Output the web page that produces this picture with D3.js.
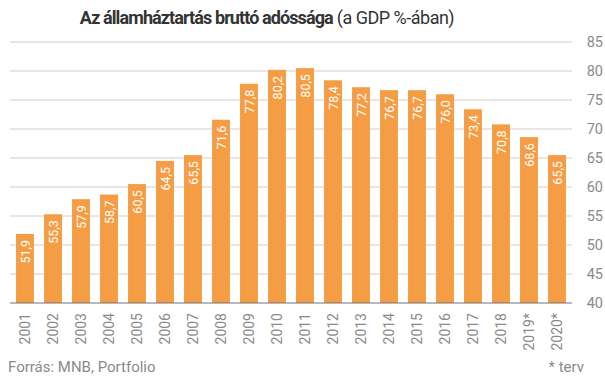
<!DOCTYPE html>
<html><head><meta charset="utf-8">
<script src="https://cdn.jsdelivr.net/npm/d3@7"></script>
<style>body{margin:0;background:#fff;}svg{display:block;font-family:Roboto,"Noto Sans",sans-serif;}</style>
</head><body>
<svg id="c" width="605" height="378"></svg>
<script>
const years = ["2001","2002","2003","2004","2005","2006","2007","2008","2009","2010","2011","2012","2013","2014","2015","2016","2017","2018","2019*","2020*"];
const debt = [51.9,55.3,57.9,58.7,60.5,64.5,65.5,71.6,77.8,80.2,80.5,78.4,77.2,76.7,76.7,76.0,73.4,70.8,68.6,65.5];
const yTicks = [40,45,50,55,60,65,70,75,80,85];
const titleBold = "Az államháztartás bruttó adóssága";
const titleRest = " (a GDP %-ában)";
const sourceText = "Forrás: MNB, Portfolio";
const noteText = "* terv";

const svg = d3.select("#c");
const x = d3.scaleBand().domain(years).range([11,571]).paddingInner(0.36).paddingOuter(0.18);
const y = d3.scaleLinear().domain([40,85]).range([303,42]);

svg.append("g").selectAll("line").data(yTicks.filter(d=>d>40)).join("line")
  .attr("x1",10).attr("x2",572).attr("y1",d=>y(d)).attr("y2",d=>y(d))
  .attr("stroke","#cfcfcf").attr("stroke-width",1);

svg.append("g").selectAll("text").data(yTicks).join("text")
  .attr("x",603).attr("y",d=>y(d)+5).attr("text-anchor","end")
  .attr("font-size",14.5).attr("fill","#8a8a8a").text(d=>d);

svg.append("g").selectAll("rect").data(debt).join("rect")
  .attr("x",(d,i)=>x(years[i])).attr("width",x.bandwidth())
  .attr("y",d=>y(d)).attr("height",d=>y(40)-y(d)).attr("fill","#F59D45");

svg.append("g").selectAll("text").data(debt).join("text")
  .attr("transform",(d,i)=>`translate(${x(years[i])+x.bandwidth()/2+4.5},${y(d)+6}) rotate(-90)`)
  .attr("text-anchor","end").attr("font-size",12.5).attr("fill","#fff")
  .text(d=>d.toFixed(1).replace(".",","));

svg.append("line").attr("x1",10).attr("x2",572).attr("y1",y(40)).attr("y2",y(40))
  .attr("stroke","#707070").attr("stroke-width",1.2);

svg.append("g").selectAll("text").data(years).join("text")
  .attr("transform",d=>`translate(${x(d)+x.bandwidth()/2+5},313) rotate(-90)`)
  .attr("text-anchor","end").attr("font-size",14).attr("fill","#8a8a8a").text(d=>d);

const t = svg.append("text").attr("x",267).attr("y",24).attr("text-anchor","middle").attr("font-size",18).attr("fill","#333");
t.append("tspan").attr("font-weight","bold").attr("letter-spacing",-0.9).text(titleBold);
t.append("tspan").attr("letter-spacing",-0.5).text(titleRest);

svg.append("text").attr("x",8).attr("y",372).attr("font-size",15).attr("fill","#8a8a8a").text(sourceText);
svg.append("text").attr("x",584).attr("y",372).attr("text-anchor","end").attr("font-size",15).attr("fill","#8a8a8a").text(noteText);
</script>
</body></html>
